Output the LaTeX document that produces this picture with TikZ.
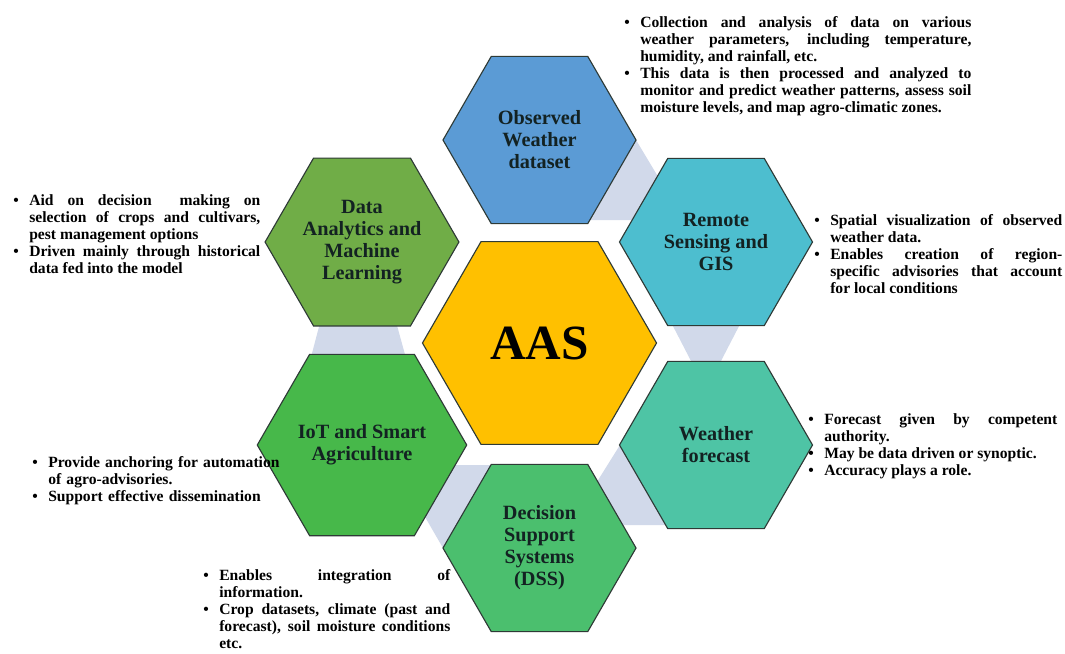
\documentclass[tikz,border=0pt]{standalone}
\usepackage{xcolor}
\usepackage{fontspec}
\setmainfont{Liberation Serif}
\usepackage{tikz}
\usetikzlibrary{shapes.geometric}

\definecolor{aasyellow}{HTML}{FFC000}
\definecolor{obsblue}{HTML}{5B9BD5}
\definecolor{rsteal}{HTML}{4DBECF}
\definecolor{wfgreen}{HTML}{4EC4A5}
\definecolor{dssgreen}{HTML}{4BBF6E}
\definecolor{iotgreen}{HTML}{47B84A}
\definecolor{dagreen}{HTML}{70AD47}
\definecolor{bandgray}{HTML}{D1D9EA}
\definecolor{hexline}{HTML}{2E3A36}
\definecolor{hextext}{HTML}{132222}

\tikzset{
  hexbox/.style={regular polygon, regular polygon sides=6, minimum size=4.825cm,
    inner sep=0pt, draw=hexline, line width=0.8pt, align=center, text=hextext,
    font=\bfseries\fontsize{14.4}{15.6}\selectfont},
  band/.style={fill=bandgray, draw=none},
  note/.style={anchor=north west, inner sep=0pt, align=justify,
    font=\bfseries\fontsize{11.1}{12.1}\selectfont}
}

\newcommand{\bitem}{\par\leftskip=0.4cm\noindent\llap{\makebox[0.4cm][l]{\textbullet}}}

\begin{document}
\begin{tikzpicture}[x=0.025cm, y=-0.025cm]
\fill [white] (0,0) rectangle (1065,653);
\useasboundingbox (0,0) rectangle (1065,653);

\fill [band] (636,140) -- (684,220) -- (585,220) -- cycle;
\fill [band] (659.5,300) -- (752.5,300) -- (706,390) -- cycle;
\fill [band] (620,445) -- (670,525) -- (570,525) -- cycle;
\fill [band] (443,548) -- (395,465) -- (505,465) -- cycle;
\fill [band] (305,380) -- (412,380) -- (390,300) -- (326,300) -- cycle;

\node [hexbox, fill=aasyellow, minimum size=5.85cm, text=black,
  font=\bfseries\fontsize{35}{40}\selectfont] (aas) at (539.5,343) {AAS};
\node [hexbox, fill=obsblue] (obs) at (539.5,140) {Observed\\Weather\\dataset};
\node [hexbox, fill=rsteal] (rs) at (716,242) {Remote\\Sensing and\\GIS};
\node [hexbox, fill=wfgreen] (wf) at (716,445) {Weather\\forecast};
\node [hexbox, fill=dssgreen] (dss) at (539.5,548) {Decision\\Support\\Systems\\(DSS)};
\node [hexbox, fill=iotgreen] (iot) at (362,445) {IoT and Smart\\Agriculture};
\node [hexbox, fill=dagreen] (da) at (362,242) {Data\\Analytics and\\Machine\\Learning};

\node [note, text width=8.675cm] (obsnote) at (624,10) {%
\bitem Collection and analysis of data on various\linebreak weather parameters, including temperature,\linebreak humidity, and rainfall, etc.
\bitem This data is then processed and analyzed to\linebreak monitor and predict weather patterns, assess soil\linebreak moisture levels, and map agro-climatic zones.\par};

\node [note, text width=6.175cm] (danote) at (13,188.5) {%
\bitem Aid on decision\ \ making on\linebreak selection of crops and cultivars,\linebreak pest management options
\bitem Driven mainly through historical\linebreak data fed into the model\par};

\node [note, text width=6.2cm] (rsnote) at (814,208.5) {%
\bitem Spatial visualization of observed\linebreak weather data.
\bitem Enables creation of region-\linebreak specific advisories that account\linebreak for local conditions\par};

\node [note, text width=6.225cm] (wfnote) at (808,407.5) {%
\bitem Forecast given by competent\linebreak authority.
\bitem May be data driven or synoptic.
\bitem Accuracy plays a role.\par};

\node [note, text width=6.5cm, align=left] (iotnote) at (32,450.5) {%
\bitem Provide anchoring for automation\\ of agro-advisories.
\bitem Support effective dissemination\par};

\node [note, text width=6.175cm] (dssnote) at (203,563.5) {%
\bitem Enables integration of\linebreak information.
\bitem Crop datasets, climate (past and\linebreak forecast), soil moisture conditions\linebreak etc.\par};
\end{tikzpicture}
\end{document}
